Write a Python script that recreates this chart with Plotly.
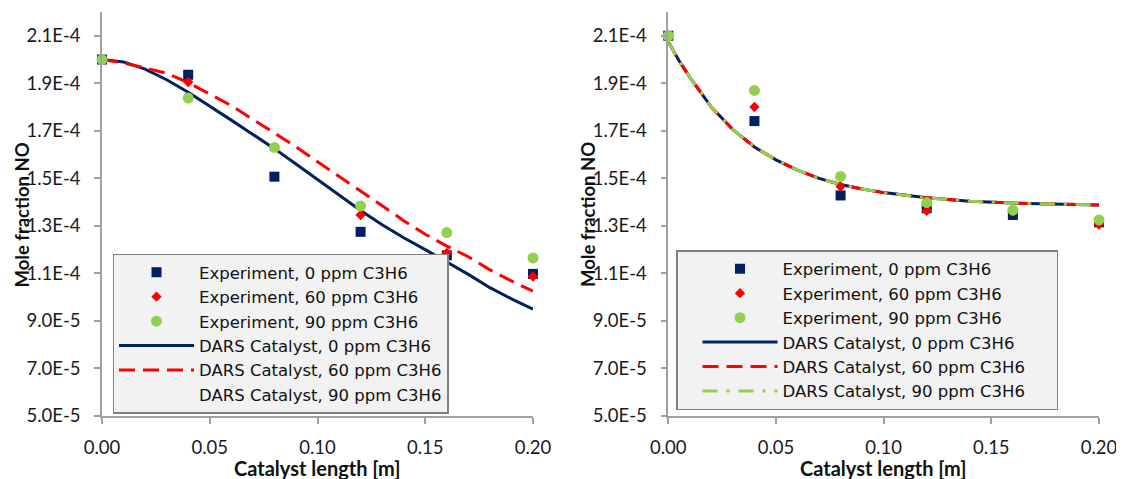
import plotly.graph_objects as go

# ---------------- data ----------------
exp_x = [0.0, 0.04, 0.08, 0.12, 0.16, 0.20]

# left panel (experiments)
left_exp0 = [2.00e-4, 1.936e-4, 1.507e-4, 1.275e-4, 1.176e-4, 1.098e-4]
left_exp60 = [2.00e-4, 1.905e-4, 1.630e-4, 1.346e-4, 1.186e-4, 1.087e-4]
left_exp90 = [2.00e-4, 1.838e-4, 1.630e-4, 1.384e-4, 1.272e-4, 1.165e-4]

# left panel (model)
left_model_x = [0.00, 0.01, 0.02, 0.03, 0.04, 0.05, 0.06, 0.07, 0.08, 0.09, 0.10,
                0.11, 0.12, 0.13, 0.14, 0.15, 0.16, 0.17, 0.18, 0.19, 0.20]
left_dars0 = [2.000e-4, 1.990e-4, 1.960e-4, 1.915e-4, 1.862e-4, 1.805e-4, 1.745e-4,
              1.685e-4, 1.625e-4, 1.560e-4, 1.495e-4, 1.430e-4, 1.365e-4, 1.305e-4,
              1.250e-4, 1.200e-4, 1.148e-4, 1.096e-4, 1.040e-4, 0.993e-4, 0.950e-4]
left_dars60 = [2.000e-4, 1.985e-4, 1.965e-4, 1.942e-4, 1.903e-4, 1.853e-4, 1.806e-4,
               1.748e-4, 1.692e-4, 1.633e-4, 1.570e-4, 1.510e-4, 1.447e-4, 1.385e-4,
               1.322e-4, 1.265e-4, 1.215e-4, 1.170e-4, 1.115e-4, 1.068e-4, 1.025e-4]
left_dars90_x = [None]  # series shown in legend only (no visible line)
left_dars90 = [None]

# right panel (experiments)
right_exp0 = [2.10e-4, 1.741e-4, 1.428e-4, 1.374e-4, 1.346e-4, 1.315e-4]
right_exp60 = [2.10e-4, 1.800e-4, 1.466e-4, 1.363e-4, 1.360e-4, 1.306e-4]
right_exp90 = [2.10e-4, 1.870e-4, 1.508e-4, 1.398e-4, 1.366e-4, 1.325e-4]

# right panel (model)
right_model_x = [0.000, 0.005, 0.010, 0.015, 0.020, 0.030, 0.040, 0.050, 0.060,
                 0.070, 0.080, 0.090, 0.100, 0.120, 0.140, 0.160, 0.180, 0.200]
right_dars0 = [2.075e-4, 1.995e-4, 1.925e-4, 1.860e-4, 1.800e-4, 1.705e-4, 1.632e-4,
               1.578e-4, 1.535e-4, 1.500e-4, 1.474e-4, 1.455e-4, 1.440e-4, 1.418e-4,
               1.404e-4, 1.396e-4, 1.391e-4, 1.388e-4]
right_dars60 = [2.075e-4, 1.995e-4, 1.925e-4, 1.860e-4, 1.800e-4, 1.705e-4, 1.632e-4,
                1.578e-4, 1.535e-4, 1.500e-4, 1.474e-4, 1.455e-4, 1.440e-4, 1.418e-4,
                1.404e-4, 1.396e-4, 1.391e-4, 1.388e-4]
right_dars90 = [2.075e-4, 1.995e-4, 1.925e-4, 1.860e-4, 1.800e-4, 1.705e-4, 1.632e-4,
                1.578e-4, 1.535e-4, 1.500e-4, 1.474e-4, 1.455e-4, 1.440e-4, 1.418e-4,
                1.404e-4, 1.396e-4, 1.391e-4, 1.388e-4]

y_tickvals = [5e-5, 7e-5, 9e-5, 1.1e-4, 1.3e-4, 1.5e-4, 1.7e-4, 1.9e-4, 2.1e-4]
y_ticktext = ["5.0E-5", "7.0E-5", "9.0E-5", "1.1E-4", "1.3E-4", "1.5E-4", "1.7E-4", "1.9E-4", "2.1E-4"]
x_tickvals = [0.0, 0.05, 0.10, 0.15, 0.20]
x_ticktext = ["0.00", "0.05", "0.10", "0.15", "0.20"]

names = ["Experiment, 0 ppm C3H6", "Experiment, 60 ppm C3H6", "Experiment, 90 ppm C3H6",
         "DARS Catalyst, 0 ppm C3H6", "DARS Catalyst, 60 ppm C3H6", "DARS Catalyst, 90 ppm C3H6"]

NAVY = "#002060"
RED = "#FF0000"
GREEN = "#92D050"
FONT = "Lato"
LEGFONT = "DejaVu Sans"

fig = go.Figure()


def add_panel(xa, ya, leg, mx, dars0, dars60, x90, dars90, e0, e60, e90, show90, pad=""):
    nm = [n + pad for n in names]
    # model lines first (drawn under markers)
    fig.add_trace(go.Scatter(x=mx, y=dars0, mode="lines", name=nm[3], legend=leg, legendrank=4,
                             line=dict(color=NAVY, width=3), xaxis=xa, yaxis=ya))
    fig.add_trace(go.Scatter(x=mx, y=dars60, mode="lines", name=nm[4], legend=leg, legendrank=5,
                             line=dict(color=RED, width=3, dash="16px,8px"), xaxis=xa, yaxis=ya))
    if show90:
        line90 = dict(color=GREEN, width=3, dash="15px,9px,3px,9px")
    else:
        line90 = dict(color="rgba(0,0,0,0)", width=3)
    fig.add_trace(go.Scatter(x=x90, y=dars90, mode="lines", name=nm[5], legend=leg, legendrank=6,
                             line=line90, xaxis=xa, yaxis=ya))
    fig.add_trace(go.Scatter(x=exp_x, y=e0, mode="markers", name=nm[0], legend=leg, legendrank=1,
                             marker=dict(symbol="square", size=10, color=NAVY), cliponaxis=False,
                             xaxis=xa, yaxis=ya))
    fig.add_trace(go.Scatter(x=exp_x, y=e60, mode="markers", name=nm[1], legend=leg, legendrank=2,
                             marker=dict(symbol="diamond", size=8, color=RED), cliponaxis=False,
                             xaxis=xa, yaxis=ya))
    fig.add_trace(go.Scatter(x=exp_x, y=e90, mode="markers", name=nm[2], legend=leg, legendrank=3,
                             marker=dict(symbol="circle", size=11, color=GREEN), cliponaxis=False,
                             xaxis=xa, yaxis=ya))


add_panel("x", "y", "legend", left_model_x, left_dars0, left_dars60, left_dars90_x, left_dars90,
          left_exp0, left_exp60, left_exp90, False)
add_panel("x2", "y2", "legend2", right_model_x, right_dars0, right_dars60, right_model_x, right_dars90,
          right_exp0, right_exp60, right_exp90, True, pad="\u00a0" * 5)

# page body has an 8px margin: the figure starts at (8, 8) in the window
OFF = 8
W, H = 1124 - OFF, 479 - OFF
L, R, T, B = 102 - OFF, 25, 12 - OFF, 63
pw = W - L - R
ph = H - T - B


def px_x(p):
    # window pixel -> paper coordinate
    return (p - OFF - L) / pw


def px_y(p):
    return (H - B - (p - OFF)) / ph


axis_common = dict(showgrid=False, zeroline=False, showline=True, linecolor="#A0A0A0", linewidth=1.5,
                   ticks="outside", ticklen=6, tickcolor="#A0A0A0", tickwidth=1.5,
                   tickfont=dict(family=FONT, size=18.5, color="#1a1a1a"))

xax = dict(axis_common, range=[0, 0.2], tickvals=x_tickvals, ticktext=x_ticktext, ticklabelstandoff=8)
yax = dict(axis_common, range=[5e-5, 2.2e-4], tickvals=y_tickvals, ticktext=y_ticktext, ticklabelstandoff=10)

legend_common = dict(bgcolor="#F2F2F2", bordercolor="#808080", borderwidth=1.5,
                     font=dict(family=LEGFONT, size=16.5, color="#111111"), itemwidth=75,
                     xanchor="left", yanchor="top", traceorder="normal", tracegroupgap=0)

fig.update_layout(
    width=W, height=H,
    margin=dict(l=L, r=R, t=T, b=B),
    paper_bgcolor="white", plot_bgcolor="white",
    xaxis=dict(xax, domain=[0, px_x(533)], anchor="y"),
    yaxis=dict(yax, domain=[0, 1], anchor="x"),
    xaxis2=dict(xax, domain=[px_x(668.3), 1], anchor="y2"),
    yaxis2=dict(yax, domain=[0, 1], anchor="x2"),
    legend=dict(legend_common, x=px_x(112.5), y=px_y(253.5)),
    legend2=dict(legend_common, x=px_x(676), y=px_y(250), indentation=20),
    showlegend=True,
)

xtitle_font = dict(family=FONT, size=20, color="#111111", weight="bold")
ytitle_font = dict(family=FONT, size=18.5, color="#111111", weight="bold")
for cx in [(102 + 533) / 2, (668.3 + 1099.3) / 2]:
    fig.add_annotation(text="Catalyst length [m]", x=px_x(cx), y=px_y(467.5), xref="paper", yref="paper",
                       showarrow=False, xanchor="center", yanchor="middle", font=xtitle_font)
for cx in [21.5, 588]:
    fig.add_annotation(text="Mole fraction NO", x=px_x(cx), y=px_y(215), xref="paper", yref="paper",
                       showarrow=False, xanchor="center", yanchor="middle", textangle=-90, font=ytitle_font)

fig.write_html("out.html")
